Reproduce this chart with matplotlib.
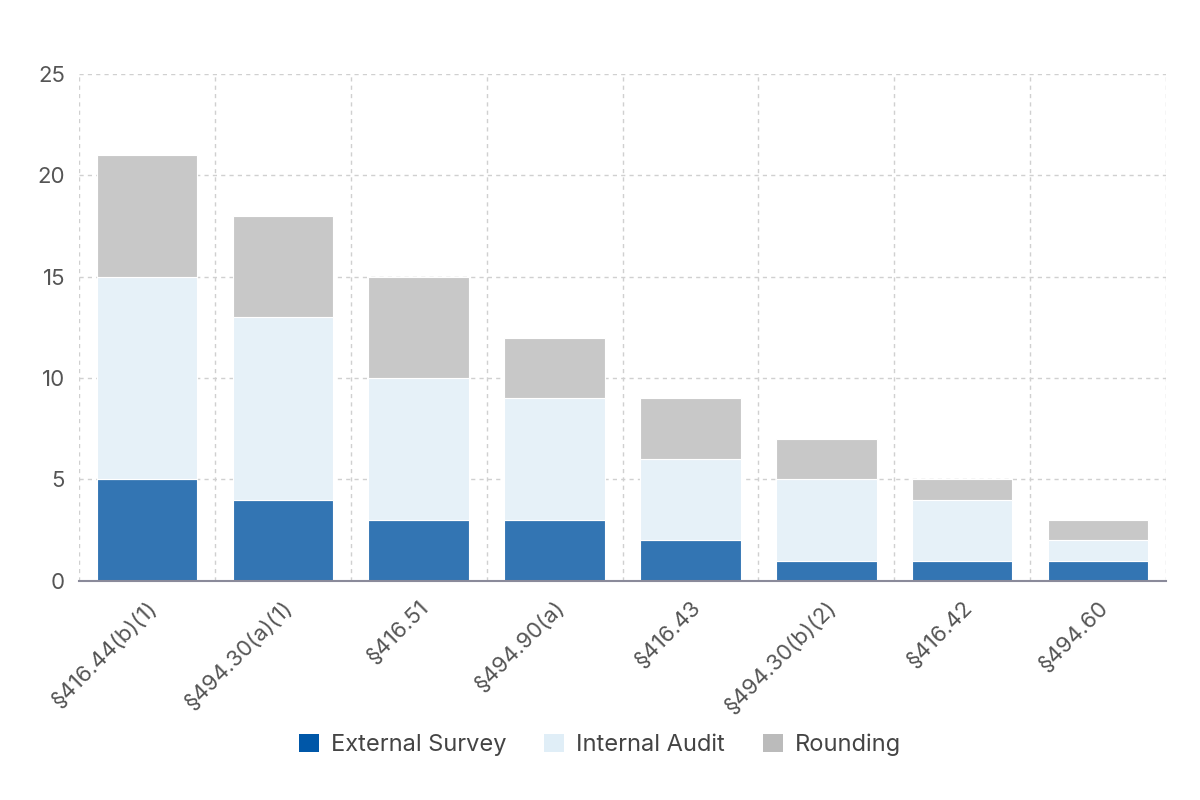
import numpy as np
import matplotlib
matplotlib.use('Agg')
import matplotlib.pyplot as plt
from matplotlib.patches import Patch

plt.rcParams['font.family'] = ['Inter', 'DejaVu Sans']

# data
categories = ['§416.44(b)(1)', '§494.30(a)(1)', '§416.51', '§494.90(a)',
              '§416.43', '§494.30(b)(2)', '§416.42', '§494.60']
external_survey = [5, 4, 3, 3, 2, 1, 1, 1]
internal_audit = [10, 9, 7, 6, 4, 4, 3, 1]
rounding = [6, 5, 5, 3, 3, 2, 1, 1]

series_names = ['External Survey', 'Internal Audit', 'Rounding']
bar_colors = ['#3375b3', '#e6f1f8', '#c8c8c8']
legend_colors = ['#0057a8', '#e0eef7', '#bbbbbb']

fig = plt.figure(figsize=(12, 8), dpi=100)
ax = fig.add_axes([0.0658, 0.274, 0.9059, 0.6335])

x = np.arange(len(categories))
bottom = np.zeros(len(categories))
for vals, col in zip([external_survey, internal_audit, rounding], bar_colors):
    ax.bar(x, vals, width=0.74, bottom=bottom, color=col,
           edgecolor='white', linewidth=0.8, zorder=3)
    bottom += np.array(vals)

ax.set_xlim(-0.5, len(categories) - 0.5)
ax.set_ylim(0, 25)
ax.set_yticks([0, 5, 10, 15, 20, 25])

# dashed grid: horizontal at y ticks, vertical at category boundaries
for yv in [5, 10, 15, 20, 25]:
    ax.axhline(yv, color='#d0d0d0', linestyle=(0, (3, 3)), linewidth=1, zorder=1)
for b in np.arange(-0.5, len(categories), 1.0):
    ax.axvline(b, color='#d0d0d0', linestyle=(0, (3, 3)), linewidth=1, zorder=1)

for s in ['top', 'right', 'left']:
    ax.spines[s].set_visible(False)
ax.spines['bottom'].set_color('#8a8a9a')
ax.spines['bottom'].set_linewidth(1.5)
ax.spines['bottom'].set_zorder(4)

ax.set_xticks(x)
ax.set_xticklabels(categories, rotation=45, ha='right',
                   rotation_mode='anchor', fontsize=16, color='#555555')
ax.tick_params(axis='x', length=0, pad=12)
ax.tick_params(axis='y', length=0, labelsize=16, labelcolor='#555555', pad=10)

handles = [Patch(facecolor=c, edgecolor='none') for c in legend_colors]
fig.legend(handles, series_names, loc='center', bbox_to_anchor=(0.5, 0.069),
           ncol=3, frameon=False, fontsize=17, handlelength=0.85,
           handleheight=0.85, handletextpad=0.5, columnspacing=1.6,
           labelcolor='#444444')

fig.savefig('out.png', dpi=100)
